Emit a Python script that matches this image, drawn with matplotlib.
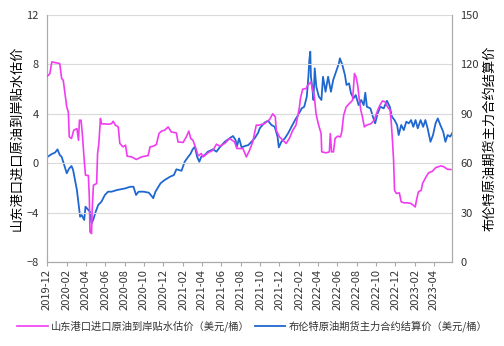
import pandas as pd
import matplotlib
matplotlib.use('Agg')
import matplotlib.pyplot as plt
import matplotlib.dates as mdates

plt.rcParams['font.family'] = ['Noto Sans CJK SC', 'DejaVu Sans']

# 山东港口进口原油到岸贴水估价（美元/桶）
premium_dates = [
    '2019-12-03', '2019-12-10', '2019-12-16', '2019-12-26', '2020-01-10', '2020-01-16',
    '2020-01-21', '2020-02-01', '2020-02-06', '2020-02-09', '2020-02-16', '2020-02-23',
    '2020-03-04', '2020-03-09', '2020-03-12', '2020-03-17', '2020-03-21', '2020-03-27',
    '2020-03-31', '2020-04-09', '2020-04-12', '2020-04-14', '2020-04-19', '2020-04-21',
    '2020-04-25', '2020-05-05', '2020-05-08', '2020-05-12', '2020-05-17', '2020-05-20',
    '2020-06-10', '2020-06-21', '2020-06-26', '2020-07-03', '2020-07-12', '2020-07-17',
    '2020-07-27', '2020-08-04', '2020-08-09', '2020-08-23', '2020-09-07', '2020-09-23',
    '2020-10-14', '2020-10-20', '2020-10-30', '2020-11-09', '2020-11-17', '2020-11-25',
    '2020-12-05', '2020-12-16', '2020-12-26', '2021-01-11', '2021-01-16', '2021-02-01',
    '2021-02-11', '2021-02-19', '2021-02-25', '2021-03-04', '2021-03-15', '2021-03-20',
    '2021-03-30', '2021-04-05', '2021-04-20', '2021-05-06', '2021-05-17', '2021-05-27',
    '2021-06-12', '2021-06-27', '2021-07-13', '2021-07-20', '2021-08-08', '2021-08-19',
    '2021-08-29', '2021-09-08', '2021-09-19', '2021-09-27', '2021-10-15', '2021-10-31',
    '2021-11-10', '2021-11-18', '2021-11-21', '2021-12-01', '2021-12-12', '2021-12-22',
    '2022-01-01', '2022-01-12', '2022-01-22', '2022-02-02', '2022-02-05', '2022-02-12',
    '2022-02-23', '2022-02-28', '2022-03-10', '2022-03-21', '2022-03-26', '2022-04-02',
    '2022-04-11', '2022-04-13', '2022-04-27', '2022-05-07', '2022-05-10', '2022-05-14',
    '2022-05-20', '2022-05-25', '2022-06-02', '2022-06-11', '2022-06-15', '2022-06-21',
    '2022-06-29', '2022-07-09', '2022-07-19', '2022-07-25', '2022-07-30', '2022-08-04',
    '2022-08-09', '2022-08-14', '2022-08-19', '2022-08-25', '2022-09-01', '2022-09-15',
    '2022-09-25', '2022-10-06', '2022-10-13', '2022-10-21', '2022-10-30', '2022-11-06',
    '2022-11-14', '2022-11-18', '2022-11-22', '2022-11-25', '2022-11-28', '2022-12-04',
    '2022-12-13', '2022-12-19', '2022-12-28', '2023-01-08', '2023-01-18', '2023-01-26',
    '2023-02-01', '2023-02-05', '2023-02-11', '2023-02-20', '2023-02-24', '2023-03-07',
    '2023-03-15', '2023-03-27', '2023-04-07', '2023-04-23', '2023-05-03', '2023-05-13',
    '2023-05-24',
]
premium = [
    7.07, 7.26, 8.2, 8.15, 8.07, 6.86,
    6.72, 4.56, 4.15, 2.13, 2.0, 2.67,
    2.8, 1.86, 3.48, 3.48, 2.4, 0.24,
    -0.97, -1.0, -2.7, -5.56, -5.7, -3.8,
    -1.78, -1.65, 0.78, 1.6, 3.62, 3.2,
    3.16, 3.2, 3.4, 3.08, 2.94, 1.6,
    1.32, 1.46, 0.57, 0.51, 0.3, 0.51,
    0.62, 1.32, 1.38, 1.51, 2.4, 2.6,
    2.67, 2.94, 2.53, 2.45, 1.72, 1.68,
    2.13, 2.6, 2.0, 1.86, 1.05, 0.59,
    0.78, 0.51, 0.84, 1.05, 1.54, 1.38,
    1.6, 2.0, 1.72, 1.19, 1.19, 0.51,
    1.05, 1.72, 3.08, 3.08, 3.2, 3.54,
    4.0, 3.75, 2.67, 2.13, 1.86, 1.6,
    2.0, 2.67, 3.08, 4.56, 5.24, 5.99,
    6.05, 6.32, 6.58, 5.37, 4.02, 3.2,
    2.4, 0.92, 0.84, 0.92, 2.4, 0.92,
    0.92, 2.0, 2.19, 2.13, 2.53, 3.89,
    4.56, 4.83, 5.1, 7.26, 6.99, 6.32,
    5.2, 4.29, 3.75, 2.94, 3.08, 3.2,
    3.48, 4.29, 4.7, 5.04, 4.96, 4.56,
    4.29, 3.2, 1.6, 0.24, -2.19, -2.45,
    -2.4, -3.13, -3.21, -3.21, -3.26, -3.4,
    -3.54, -3.0, -2.32, -2.19, -1.65, -1.11,
    -0.78, -0.65, -0.35, -0.22, -0.3, -0.49,
    -0.51,
]

# 布伦特原油期货主力合约结算价（美元/桶）
brent_dates = [
    '2019-12-03', '2019-12-16', '2019-12-26', '2020-01-03', '2020-01-10', '2020-01-16',
    '2020-01-24', '2020-02-01', '2020-02-09', '2020-02-16', '2020-02-21', '2020-02-27',
    '2020-03-04', '2020-03-09', '2020-03-14', '2020-03-19', '2020-03-27', '2020-03-31',
    '2020-04-09', '2020-04-14', '2020-04-19', '2020-04-24', '2020-05-02', '2020-05-10',
    '2020-05-20', '2020-05-31', '2020-06-10', '2020-06-21', '2020-07-08', '2020-07-23',
    '2020-08-03', '2020-08-19', '2020-08-29', '2020-09-06', '2020-09-14', '2020-09-30',
    '2020-10-16', '2020-10-27', '2020-10-30', '2020-11-06', '2020-11-22', '2020-12-05',
    '2020-12-22', '2021-01-03', '2021-01-11', '2021-01-27', '2021-02-06', '2021-02-17',
    '2021-02-24', '2021-03-03', '2021-03-10', '2021-03-17', '2021-03-24', '2021-03-30',
    '2021-04-10', '2021-04-20', '2021-05-06', '2021-05-17', '2021-05-27', '2021-06-12',
    '2021-06-27', '2021-07-08', '2021-07-16', '2021-07-20', '2021-07-27', '2021-08-04',
    '2021-08-14', '2021-08-25', '2021-09-04', '2021-09-14', '2021-09-25', '2021-09-30',
    '2021-10-15', '2021-10-26', '2021-11-06', '2021-11-16', '2021-11-25', '2021-11-29',
    '2021-12-07', '2021-12-18', '2021-12-28', '2022-01-08', '2022-01-19', '2022-01-29',
    '2022-02-09', '2022-02-17', '2022-02-25', '2022-03-02', '2022-03-05', '2022-03-08',
    '2022-03-10', '2022-03-14', '2022-03-18', '2022-03-22', '2022-03-27', '2022-04-04',
    '2022-04-12', '2022-04-17', '2022-04-25', '2022-05-03', '2022-05-12', '2022-05-19',
    '2022-05-30', '2022-06-06', '2022-06-09', '2022-06-17', '2022-06-25', '2022-06-30',
    '2022-07-08', '2022-07-14', '2022-07-22', '2022-07-29', '2022-08-07', '2022-08-15',
    '2022-08-23', '2022-08-28', '2022-09-02', '2022-09-13', '2022-09-21', '2022-09-28',
    '2022-10-06', '2022-10-14', '2022-10-25', '2022-11-04', '2022-11-13', '2022-11-20',
    '2022-11-28', '2022-12-06', '2022-12-11', '2022-12-19', '2022-12-27', '2023-01-04',
    '2023-01-12', '2023-01-19', '2023-01-26', '2023-02-02', '2023-02-09', '2023-02-18',
    '2023-02-26', '2023-03-05', '2023-03-12', '2023-03-21', '2023-03-29', '2023-04-06',
    '2023-04-13', '2023-04-21', '2023-04-30', '2023-05-07', '2023-05-14', '2023-05-22',
    '2023-05-29',
]
brent = [
    63.9, 65.6, 66.4, 68.4, 65.0, 63.9,
    58.9, 53.9, 56.9, 58.3, 55.9, 49.8,
    43.7, 35.6, 27.5, 28.5, 25.5, 33.6,
    31.6, 30.5, 23.5, 25.5, 30.5, 34.6,
    36.6, 40.7, 42.7, 42.7, 43.7, 44.3,
    44.7, 45.7, 45.7, 40.7, 42.7, 42.7,
    42.1, 39.6, 38.7, 42.7, 47.8, 49.8,
    51.8, 52.8, 56.3, 55.4, 60.9, 63.9,
    65.6, 68.4, 70.0, 63.9, 60.9, 63.9,
    65.0, 67.0, 68.4, 67.0, 69.6, 73.0,
    75.1, 76.5, 74.1, 70.0, 75.1, 69.6,
    70.4, 71.0, 73.0, 75.1, 78.5, 81.2,
    84.6, 85.8, 83.2, 82.1, 76.1, 69.6,
    73.0, 75.1, 78.1, 82.1, 86.2, 89.3,
    93.3, 94.3, 100.4, 112.5, 122.6, 127.7,
    112.5, 106.4, 98.4, 117.6, 106.4, 100.4,
    98.4, 112.5, 103.4, 112.5, 103.4, 110.5,
    116.6, 120.6, 123.7, 119.6, 113.5, 107.5,
    108.5, 102.4, 99.4, 101.4, 95.3, 98.4,
    95.3, 102.8, 94.3, 93.3, 88.2, 84.2,
    90.3, 94.3, 93.3, 97.9, 94.3, 88.2,
    86.2, 83.2, 77.1, 83.2, 80.1, 85.2,
    84.2, 86.2, 82.1, 86.2, 81.2, 86.2,
    82.1, 86.2, 81.2, 73.0, 77.1, 84.2,
    87.2, 83.2, 79.1, 73.0, 77.1, 76.1,
    78.5,
]

left_ticks = [-8, -4, 0, 4, 8, 12]
right_ticks = [0, 30, 60, 90, 120, 150]

label_left = '山东港口进口原油到岸贴水估价'
label_right = '布伦特原油期货主力合约结算价'
legend_left = '山东港口进口原油到岸贴水估价（美元/桶）'
legend_right = '布伦特原油期货主力合约结算价（美元/桶）'

magenta = '#f03cf0'
blue = '#1f68d0'
grid_c = '#d9d9d9'
text_c = '#333333'

fig = plt.figure(figsize=(5.04, 3.46), dpi=100)
ax = fig.add_axes([0.0933, 0.2428, 0.8037, 0.7138])
ax2 = ax.twinx()

x1 = pd.to_datetime(premium_dates)
x2 = pd.to_datetime(brent_dates)

l1, = ax.plot(x1, premium, color=magenta, lw=1.2, zorder=3)
l2, = ax2.plot(x2, brent, color=blue, lw=1.3, zorder=2)

ax.set_ylim(-8, 12)
ax.set_yticks(left_ticks)
ax2.set_ylim(0, 150)
ax2.set_yticks(right_ticks)
ax.set_xlim(pd.Timestamp('2019-12-01'), pd.Timestamp('2023-05-28'))
ax.xaxis.set_major_locator(mdates.MonthLocator(bymonth=[2, 4, 6, 8, 10, 12]))
ax.xaxis.set_major_formatter(mdates.DateFormatter('%Y-%m'))

ax.yaxis.grid(True, color=grid_c, lw=0.8)
ax.set_axisbelow(True)
ax.set_zorder(ax2.get_zorder() + 1)
ax.patch.set_visible(False)

for a in (ax, ax2):
    for s in a.spines.values():
        s.set_color('#aaaaaa')
        s.set_linewidth(0.8)
    a.spines['top'].set_visible(False)

ax.tick_params(axis='y', length=0, labelsize=8, labelcolor=text_c, pad=6)
ax2.tick_params(axis='y', length=0, labelsize=8, labelcolor=text_c, pad=6)
ax.tick_params(axis='x', length=3, color='#aaaaaa', labelsize=8, labelcolor=text_c,
               labelrotation=90, pad=2)

ax.set_ylabel(label_left, fontsize=9.5, color='black', labelpad=2)
ax2.set_ylabel(label_right, fontsize=9.5, color='black', rotation=90, labelpad=3)

fig.legend([l1, l2], [legend_left, legend_right], loc='center', ncol=2,
           bbox_to_anchor=(0.5, 0.057), frameon=False, fontsize=7.4,
           handlelength=3.0, handletextpad=0.3, columnspacing=0.5,
           labelcolor=text_c)

fig.savefig('out.png', dpi=100)
